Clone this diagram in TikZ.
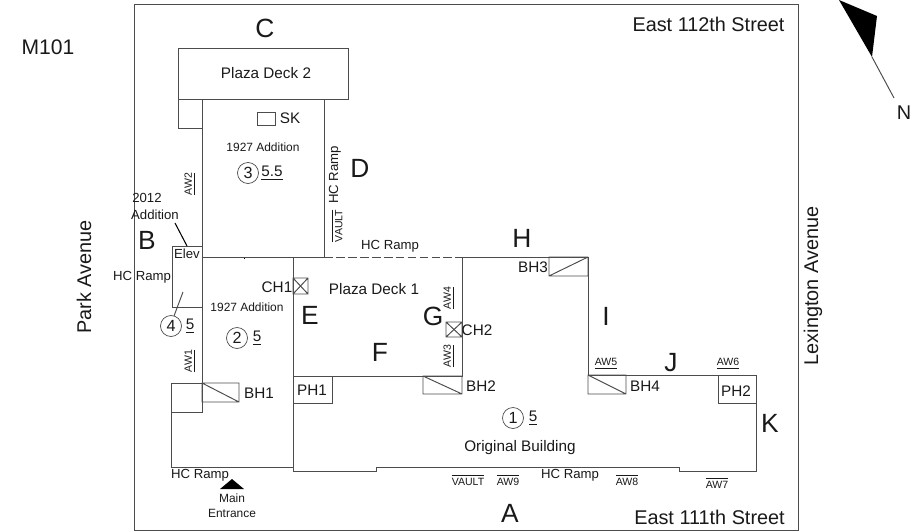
\documentclass[tikz,border=0pt]{standalone}
\usepackage{fontspec}
\setmainfont{Liberation Sans}
\usepackage{tikz}
\usetikzlibrary{positioning}
\newcommand{\ovl}[1]{$\overline{\mbox{#1}}$}
\tikzset{
    wall/.style={draw=black!70, line width=0.55pt},
    bigtag/.style={font=\fontsize{15}{17}\selectfont},
    street/.style={font=\fontsize{11.3}{13}\selectfont},
    midtag/.style={font=\fontsize{8.7}{10}\selectfont},
    ramptag/.style={font=\fontsize{7.5}{9}\selectfont},
    yeartag/.style={font=\fontsize{6.8}{8}\selectfont},
    smalltag/.style={font=\fontsize{6}{7}\selectfont, inner sep=0pt},
    floors/.style={draw=black!70, line width=0.4pt, circle, minimum size=0.42cm, inner sep=0pt, font=\fontsize{9.2}{10}\selectfont}
}
\begin{document}
\begin{tikzpicture}[x=0.02cm,y=-0.02cm,every node/.style={inner sep=0pt,text=black!90}]
                \useasboundingbox (0,0) rectangle (920,531);
                \draw [wall] (134,4) rectangle (798,530);
                % building outline
                \draw [wall] (202,99) -- (202,383);
                \draw [wall] (324,99) -- (324,257);
                \draw [wall] (172,307) -- (172,246) -- (202,246);
                \draw [wall] (172,307) -- (202,307);
                \draw [wall] (202,257) -- (324,257);
                \draw [wall, dash pattern=on 5pt off 1.8pt] (324,257) -- (462,257);
                \draw [wall] (462,257) -- (588,257) -- (588,375) -- (756,375) -- (756,471) -- (679,471) -- (679,467) -- (376,467) -- (376,471) -- (293,471) -- (293,257);
                \draw [wall] (462,257) -- (462,376) -- (293,376);
                \draw [wall] (171,383) -- (171,467) -- (293,467);
                \draw [wall] (171,383) rectangle (202,412);
                % plaza deck 2 and stub
                \draw [wall] (178,48) rectangle (348,99);
                \draw [wall] (178,99) rectangle (202,128);
                \draw [wall] (257,112) rectangle (275,125);
                % bulkheads, penthouses, chimneys
                \draw [wall] (202,383) rectangle (239,402) (202,383) -- (239,402);
                \draw [wall] (423,376) rectangle (462,394) (423,376) -- (462,394);
                \draw [wall] (549,257) rectangle (588,276) (549,276) -- (588,257);
                \draw [wall] (588,375) rectangle (626,394) (588,375) -- (626,394);
                \draw [wall] (293,376) rectangle (332,403);
                \draw [wall] (718,375) rectangle (756,403);
                \draw [wall] (293,278) rectangle (308,294) (293,278) -- (308,294) (293,294) -- (308,278);
                \draw [wall] (446,322) rectangle (462,337) (446,322) -- (462,337) (446,337) -- (462,322);
                \fill (243.5,257.5) rectangle (245,259);
                % main entrance and north arrow
                \fill (232,479) -- (244,489) -- (220,489) -- cycle;
                \fill (839,0) -- (877,16) -- (872,57) -- cycle;
                \draw [wall] (872,57) -- (894,98);
                \draw [black, line width=0.6pt] (175,223) -- (187,246);
                \draw [wall] (183,292) -- (174,316);
                % storey circles
                \node [floors] (one) at (513,418) {1};
                \node [floors] (two) at (237,338) {2};
                \node [floors] (three) at (248,173) {3};
                \node [floors] (four) at (171,326) {4};
                \node [midtag] (oneh) at (533,418) {\underline{5}};
                \node [midtag] (twoh) at (257,338) {\underline{5}};
                \node [midtag] (threeh) at (272,173) {\underline{5.5}};
                \node [midtag] (fourh) at (190,326) {\underline{5}};
                % elevation tags
                \node [bigtag] (tagA) at (510,513) {A};
                \node [bigtag] (tagB) at (147,240) {B};
                \node [bigtag] (tagC) at (265,28) {C};
                \node [bigtag] (tagD) at (360,168) {D};
                \node [bigtag] (tagE) at (310,315) {E};
                \node [bigtag] (tagF) at (380,352) {F};
                \node [bigtag] (tagG) at (433,316) {G};
                \node [bigtag] (tagH) at (522,238) {H};
                \node [bigtag] (tagI) at (606,316) {I};
                \node [bigtag] (tagJ) at (671,363) {J};
                \node [bigtag] (tagK) at (770,423) {K};
                \node [font=\fontsize{12}{14}\selectfont] (bldg) at (48,47) {M101};
                % streets
                \node [street] (north) at (708.5,24) {East 112th Street};
                \node [street] (south) at (709.5,517) {East 111th Street};
                \node [street, rotate=90] (west) at (84,277) {Park Avenue};
                \node [street, rotate=90] (east) at (813,286) {Lexington Avenue};
                \node [street] (compass) at (904,113) {N};
                % room labels
                \node [midtag] (deckone) at (374,289) {Plaza Deck 1};
                \node [midtag] (decktwo) at (266,73) {Plaza Deck 2};
                \node [midtag] (sk) at (290,118) {SK};
                \node [midtag] (ch1) at (277,287) {CH1};
                \node [midtag] (ch2) at (477,330) {CH2};
                \node [midtag] (bh1) at (259,393) {BH1};
                \node [midtag] (bh2) at (481,386) {BH2};
                \node [midtag] (bh3) at (533,267) {BH3};
                \node [midtag] (bh4) at (645,386) {BH4};
                \node [midtag] (ph1) at (312,390) {PH1};
                \node [midtag] (ph2) at (736,391) {PH2};
                \node [midtag] (orig) at (520,448) {Original Building};
                \node [ramptag] (elev) at (187,254) {Elev};
                \node [yeartag] (addup) at (263,147) {1927 Addition};
                \node [yeartag] (addlow) at (247,307) {1927 Addition};
                \node [ramptag] (year) at (147,198) {2012};
                \node [ramptag] (yearb) at (155,215) {Addition};
                \node [yeartag] (main) at (232,498) {Main};
                \node [yeartag] (entr) at (232,513) {Entrance};
                % ramps
                \node [ramptag] (rampa) at (200,475) {HC Ramp};
                \node [ramptag] (rampb) at (142,277) {HC Ramp};
                \node [ramptag] (rampc) at (390,246) {HC Ramp};
                \node [ramptag] (rampd) at (570,475) {HC Ramp};
                \node [ramptag, rotate=90] (rampe) at (335,175) {HC Ramp};
                % area walls and vaults
                \node [smalltag, rotate=90] (aw1) at (190,361) {\underline{AW1}};
                \node [smalltag, rotate=90] (aw2) at (190,184) {\underline{AW2}};
                \node [smalltag, rotate=90] (aw3) at (449,356) {\underline{AW3}};
                \node [smalltag, rotate=90] (aw4) at (449,298) {\underline{AW4}};
                \node [smalltag] (aw5) at (606,364) {\underline{AW5}};
                \node [smalltag] (aw6) at (728,364) {\underline{AW6}};
                \node [smalltag] (aw7) at (717,483) {\ovl{AW7}};
                \node [smalltag] (aw8) at (627,480) {\ovl{AW8}};
                \node [smalltag] (aw9) at (508,480) {\ovl{AW9}};
                \node [smalltag] (vaulta) at (468,480) {\ovl{VAULT}};
                \node [smalltag, rotate=90] (vaultb) at (337,226) {\ovl{VAULT}};
            \end{tikzpicture}
\end{document}
